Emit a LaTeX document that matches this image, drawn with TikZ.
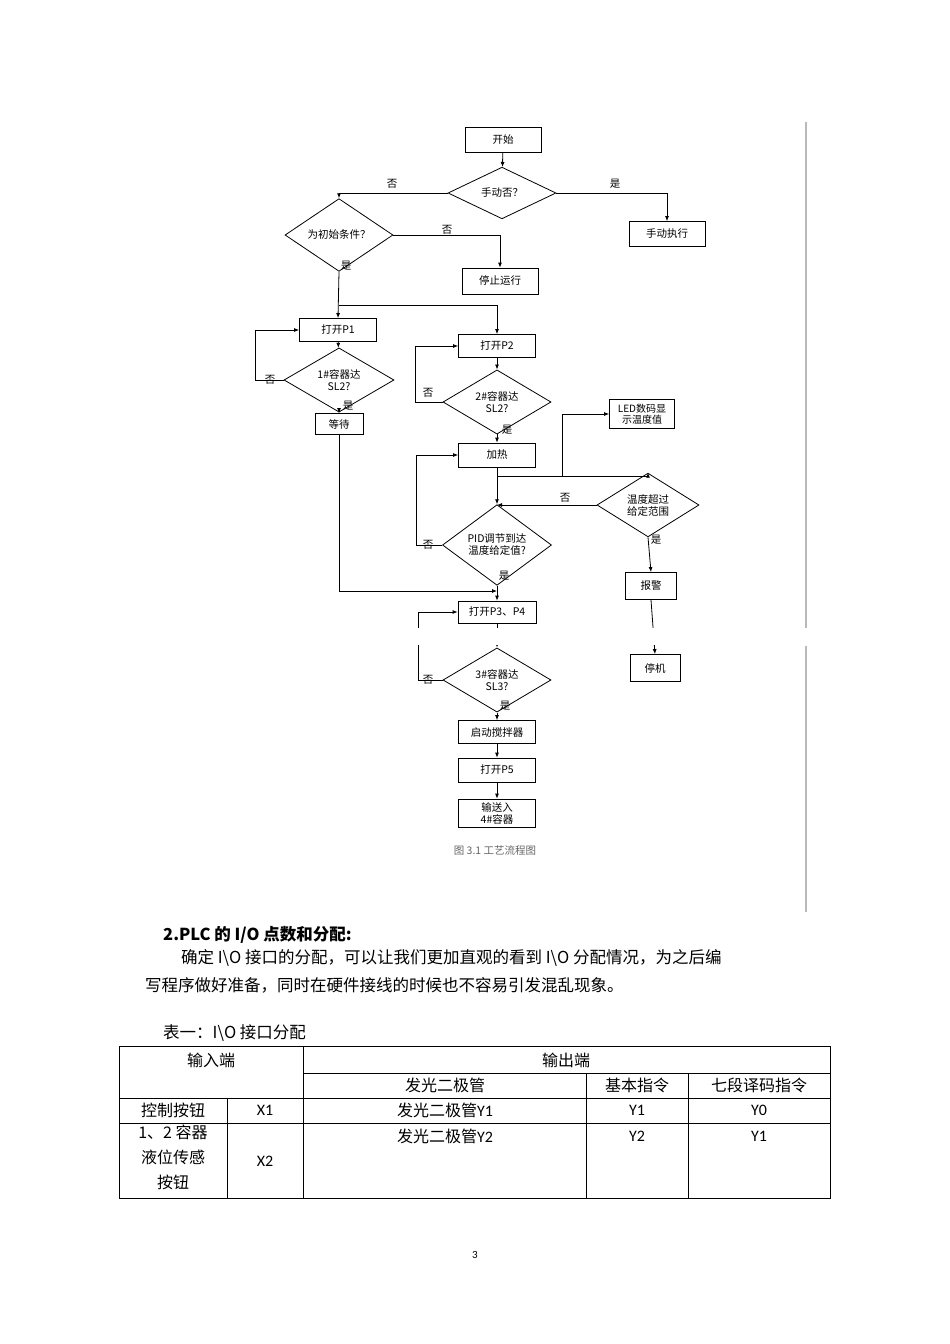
\documentclass[tikz,border=0pt]{standalone}
\usepackage{fontspec}
\setmainfont{Carlito}
\newfontfamily\cjk{Noto Sans CJK SC}
\usetikzlibrary{shapes.geometric,arrows.meta}
\tikzset{
 fc/.style={font=\cjk\fontsize{10.5}{12}\selectfont},
 bx/.style={draw,line width=0.8pt,inner sep=0pt,fc,minimum width=77pt,minimum height=23pt},
 dm/.style={draw,line width=0.8pt,shape=diamond,inner sep=0pt,fc,minimum width=108pt,minimum height=38pt,align=center},
 ln/.style={line width=0.8pt},
 ar/.style={line width=0.8pt,-{Latex[length=5pt,width=4pt]}},
 lb/.style={fc,inner sep=1pt},
 body/.style={font=\cjk\fontsize{16.5}{20}\selectfont,inner sep=0pt,anchor=west},
 cell/.style={font=\cjk\fontsize{16}{25}\selectfont,inner sep=0pt},
 cl/.style={font=\fontsize{16}{20}\selectfont,inner sep=0pt},
 gl/.style={draw=gray!55,line width=1.5pt}
}
\begin{document}
\begin{tikzpicture}[x=1pt,y=-1pt]
\useasboundingbox (0,0) rectangle (950,1344);
\fill[white] (0,0) rectangle (950,1344);
% nodes
\node[bx,minimum width=76pt,minimum height=25pt] (start) at (503,140) {开始};
\node[dm] (manual) at (502,193) {手动否？};
\node[bx,minimum width=76pt,minimum height=25pt] (mexec) at (667,234) {手动执行};
\node[dm,minimum height=36pt] (init) at (339,235) {为初始条件？};
\node[bx,minimum width=76pt,minimum height=26pt] (stop) at (500,281) {停止运行};
\node[bx] (p1) at (338,330) {打开P1};
\node[dm,minimum width=110pt,minimum height=33pt] (c1) at (339,380) {1\#容器达\\SL2?};
\node[bx,minimum width=48pt,minimum height=21pt] (wait) at (339,424) {等待};
\node[bx] (p2) at (497,346) {打开P2};
\node[dm] (c2) at (497,402) {2\#容器达\\SL2?};
\node[bx,minimum width=65pt,minimum height=29pt,align=center,font=\cjk\fontsize{10}{11}\selectfont] (led) at (642,414) {LED数码显\\示温度值};
\node[bx,minimum height=24pt] (heat) at (497,455) {加热};
\node[dm,minimum width=102pt,minimum height=40pt] (temp) at (648,505) {温度超过\\给定范围};
\node[dm,minimum width=109pt,minimum height=40pt] (pid) at (497,545) {PID调节到达\\温度给定值?};
\node[bx,minimum width=51pt,minimum height=27pt] (alarm) at (651,586) {报警};
\node[bx,minimum width=78pt,minimum height=22pt] (p34) at (497,612) {打开P3、P4};
\node[bx,minimum width=50pt,minimum height=27pt] (halt) at (655,668) {停机};
\node[dm,minimum height=36pt] (c3) at (497,680) {3\#容器达\\SL3?};
\node[bx] (stir) at (497,732) {启动搅拌器};
\node[bx,minimum height=24pt] (p5) at (497,770) {打开P5};
\node[bx,minimum height=28pt,align=center] (out) at (497,813) {输送入\\4\#容器};
\node[fc,text=gray!80!black] (cap) at (495,850) {图 3.1 工艺流程图};
% connectors
\draw[ar] (start) -- (manual);
\draw[ar] (manual.west) -| (init.north);
\node[lb] at (392,184) {否};
\draw[ar] (manual.east) -| (mexec.north);
\node[lb] at (615,184) {是};
\draw[ar] (init.east) -| (stop.north);
\node[lb] at (447,230) {否};
\draw[ar] (init.south) -- (p1.north);
\node[lb] at (346,266) {是};
\coordinate (br) at (339,305);
\draw[ar] (br) -| (p2.north);
\draw[ar] (p1) -- (c1);
\draw[ar] (c1.west) -- (255,380) |- (p1.west);
\node[lb] at (270,380) {否};
\draw[ar] (c1.south) -- (wait.north);
\node[lb] at (348,406) {是};
\draw[ar] (wait.south) |- (497,591);
\draw[ar] (p2) -- (c2);
\draw[ar] (c2.west) -- (415,402) |- (p2.west);
\node[lb] at (428,393) {否};
\draw[ar] (c2.south) -- (heat.north);
\node[lb] at (507,430) {是};
\draw[ar] (heat.south) -- (pid.north);
\draw[ar] (562,476) |- (led.west);
\draw[ar] (497,476) -| (temp.north);
\draw[ar] (temp.west) -- (497,505);
\node[lb] at (565,498) {否};
\draw[ar] (temp.south) -- (alarm.north);
\node[lb] at (656,540) {是};
\draw[ar] (alarm.south) -- (halt.north);
\draw[ar] (pid.west) -- (416,545) |- (heat.west);
\node[lb] at (428,545) {否};
\draw[ar] (pid.south) -- (p34.north);
\node[lb] at (504,576) {是};
\draw[ar] (p34) -- (c3);
\draw[ar] (c3.west) -- (418,680) |- (p34.west);
\node[lb] at (428,680) {否};
\draw[ar] (c3.south) -- (stir.north);
\node[lb] at (505,706) {是};
\draw[ar] (stir) -- (p5);
\draw[ar] (p5) -- (out);
% image split gap
\fill[white] (400,628) rectangle (700,645);
\draw[gl] (806,122) -- (806,628);
\draw[gl] (806,646) -- (806,912);
% text
\node[body,font=\cjk\bfseries\fontsize{16.5}{20}\selectfont] (h) at (163,935) {2.PLC 的 I/O 点数和分配:};
\node[body] (t1) at (181,958) {确定 I\textbackslash O 接口的分配，可以让我们更加直观的看到 I\textbackslash O 分配情况，为之后编};
\node[body] (t2) at (145,985) {写程序做好准备，同时在硬件接线的时候也不容易引发混乱现象。};
\node[body] (t3) at (163,1033) {表一：I\textbackslash O 接口分配};
% table
\draw[line width=0.7pt] (119,1046) rectangle (830,1198);
\draw[line width=0.7pt] (303,1046) -- (303,1198);
\draw[line width=0.7pt] (303,1073) -- (830,1073);
\draw[line width=0.7pt] (119,1098) -- (830,1098);
\draw[line width=0.7pt] (119,1123) -- (830,1123);
\draw[line width=0.7pt] (227,1098) -- (227,1198);
\draw[line width=0.7pt] (586,1073) -- (586,1198);
\draw[line width=0.7pt] (688,1073) -- (688,1198);
\node[cell] at (211,1060) {输入端};
\node[cell] at (566,1060) {输出端};
\node[cell] at (445,1085) {发光二极管};
\node[cell] at (637,1085) {基本指令};
\node[cell] at (759,1085) {七段译码指令};
\node[cell] at (173,1110) {控制按钮};
\node[cl] at (265,1110) {X1};
\node[cell] at (445,1110) {发光二极管{\rmfamily Y1}};
\node[cl] at (637,1110) {Y1};
\node[cl] at (759,1110) {Y0};
\node[cell,align=center,anchor=north] at (173,1125) {1、2 容器\\液位传感\\按钮};
\node[cl] at (265,1161) {X2};
\node[cell] at (445,1136) {发光二极管{\rmfamily Y2}};
\node[cl] at (637,1136) {Y2};
\node[cl] at (759,1136) {Y1};
\node[font=\fontsize{11}{12}\selectfont] at (475,1255) {3};
\end{tikzpicture}
\end{document}
